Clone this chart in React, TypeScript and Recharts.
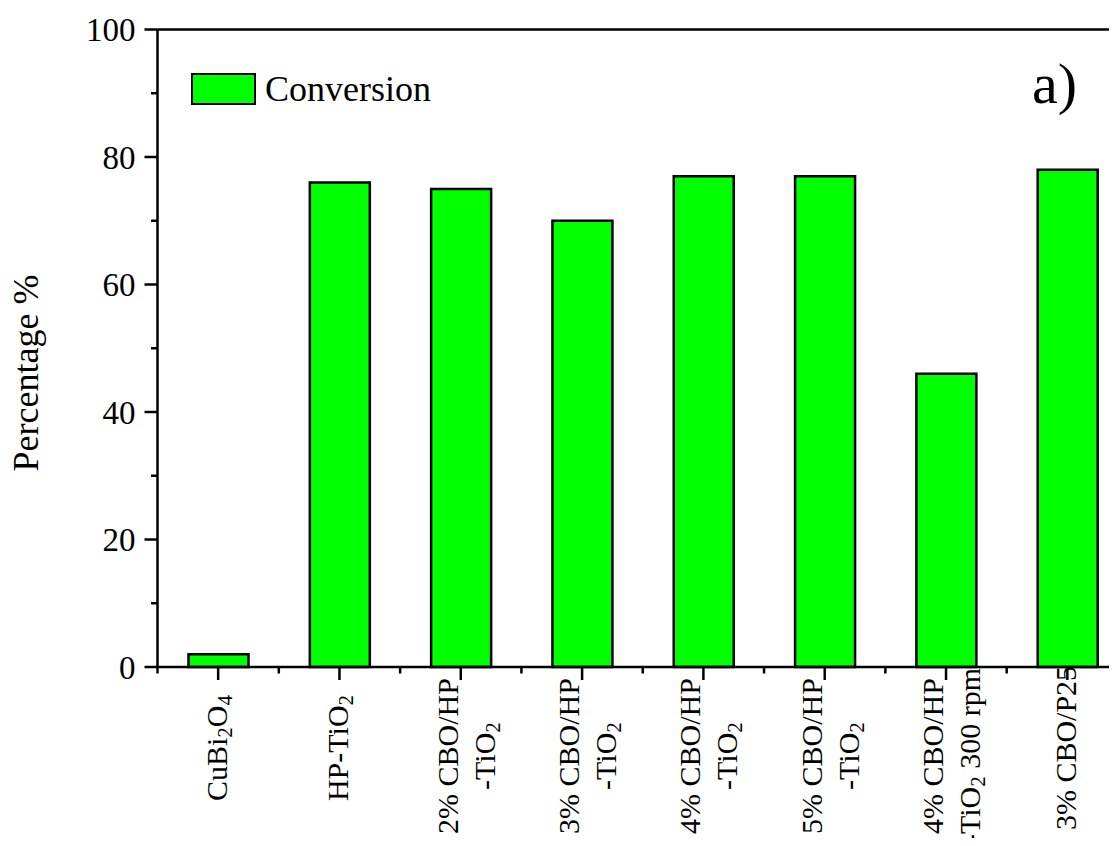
import { Bar, BarChart, Legend, ReferenceLine, XAxis, YAxis } from "recharts"

// Photocatalytic conversion for each catalyst sample (%).
const categories = [
  "CuBi2O4",
  "HP-TiO2",
  "2% CBO/HP-TiO2",
  "3% CBO/HP-TiO2",
  "4% CBO/HP-TiO2",
  "5% CBO/HP-TiO2",
  "4% CBO/HP-TiO2 300 rpm",
  "3% CBO/P25",
]
const conversion = [2, 76, 75, 70, 77, 77, 46, 78]

// Axis label lines, "_n" marks a subscript digit.
const tickLabels = [
  ["CuBi_2O_4"],
  ["HP-TiO_2"],
  ["2% CBO/HP", "-TiO_2"],
  ["3% CBO/HP", "-TiO_2"],
  ["4% CBO/HP", "-TiO_2"],
  ["5% CBO/HP", "-TiO_2"],
  ["4% CBO/HP", "-TiO_2 300 rpm"],
  ["3% CBO/P25"],
]
const yMajor = [0, 20, 40, 60, 80, 100]
const yMinor = [10, 30, 50, 70, 90]

const data = categories.map((name, i) => ({ name, conversion: conversion[i] }))
const yTicks = [...yMajor, ...yMinor].sort((a, b) => a - b)

const FONT = "'Liberation Serif', 'Times New Roman', serif"
const AXIS = 2.5

function rich(s: string) {
  const parts = s.split(/(_\d)/).filter((p) => p !== "")
  let lowered = false
  return parts.map((p, i) => {
    if (p.startsWith("_")) {
      const dy = lowered ? 0 : 5
      lowered = true
      return (
        <tspan key={i} fontSize="0.7em" dy={dy}>
          {p.slice(1)}
        </tspan>
      )
    }
    const dy = lowered ? -5 : 0
    lowered = false
    return (
      <tspan key={i} dy={dy}>
        {p}
      </tspan>
    )
  })
}

function YTick(props: any) {
  const { x, y, payload } = props
  const major = yMajor.includes(payload.value)
  return (
    <g>
      <line x1={x - (major ? 13 : 6.5)} x2={x} y1={y} y2={y} stroke="#000" strokeWidth={AXIS} />
      {major && (
        <text x={x - 22} y={y + 11.5} textAnchor="end" fontFamily={FONT} fontSize={33} fill="#000">
          {payload.value}
        </text>
      )}
    </g>
  )
}

function XTick(props: any) {
  const { x, y, payload, index } = props
  const axisY = y - 13
  const half = payload.offset ?? 0
  const lines = tickLabels[index] ?? [payload.value]
  const multi = lines.length > 1
  const cy = y + (multi ? 76 : 68)
  const minors = index === categories.length - 1 ? [x - half, x + half] : [x - half]
  return (
    <g>
      {minors.map((mx, i) => (
        <line key={i} x1={mx} x2={mx} y1={axisY} y2={axisY + 6.5} stroke="#000" strokeWidth={AXIS} />
      ))}
      {lines.map((line, i) => {
        const bx = multi ? x - 3 + i * 37 : x + 9
        return (
          <text
            key={i}
            x={bx}
            y={cy}
            transform={`rotate(-90, ${bx}, ${cy})`}
            textAnchor="middle"
            fontFamily={FONT}
            fontSize={30}
            fill="#000"
          >
            {rich(line)}
          </text>
        )
      })}
    </g>
  )
}

function LegendBox(props: any) {
  const item = props.payload?.[0]
  return (
    <div style={{ display: "flex", alignItems: "center", fontFamily: FONT }}>
      <span
        style={{
          display: "inline-block",
          boxSizing: "border-box",
          width: 65,
          height: 32,
          background: item?.color ?? "#00ff00",
          border: `${AXIS}px solid #000`,
        }}
      />
      <span style={{ marginLeft: 9, fontSize: 36, lineHeight: 1, color: "#000" }}>{item?.value}</span>
    </div>
  )
}

export default function App() {
  return (
    <div style={{ margin: -8, width: 1117, height: 846, overflow: "hidden", background: "#fff" }}>
      <BarChart width={1140} height={846} data={data} margin={{ top: 29.5, right: 12, bottom: 0, left: 0 }}>
        <XAxis
          dataKey="name"
          interval={0}
          height={179}
          tickSize={13}
          tickMargin={0}
          tickLine={{ stroke: "#000", strokeWidth: AXIS }}
          axisLine={{ stroke: "#000", strokeWidth: AXIS }}
          tick={<XTick />}
        />
        <YAxis
          type="number"
          domain={[0, 100]}
          ticks={yTicks}
          interval={0}
          width={157.5}
          tickSize={0}
          tickMargin={0}
          tickLine={false}
          axisLine={{ stroke: "#000", strokeWidth: AXIS }}
          tick={<YTick />}
        />
        <ReferenceLine y={100} stroke="#000" strokeWidth={AXIS} />
        <Legend
          layout="horizontal"
          verticalAlign="middle"
          align="center"
          content={<LegendBox />}
          wrapperStyle={{ left: 191, top: 71, width: "auto" }}
        />
        <Bar
          dataKey="conversion"
          name="Conversion"
          fill="#00ff00"
          stroke="#000"
          strokeWidth={AXIS}
          barSize={60}
          isAnimationActive={false}
        />
        <text
          x={38}
          y={373}
          transform="rotate(-90, 38, 373)"
          textAnchor="middle"
          fontFamily={FONT}
          fontSize={36}
          fill="#000"
        >
          Percentage %
        </text>
        <text x={1032} y={103} fontFamily={FONT} fontSize={58} fill="#000">
          a)
        </text>
      </BarChart>
    </div>
  )
}
